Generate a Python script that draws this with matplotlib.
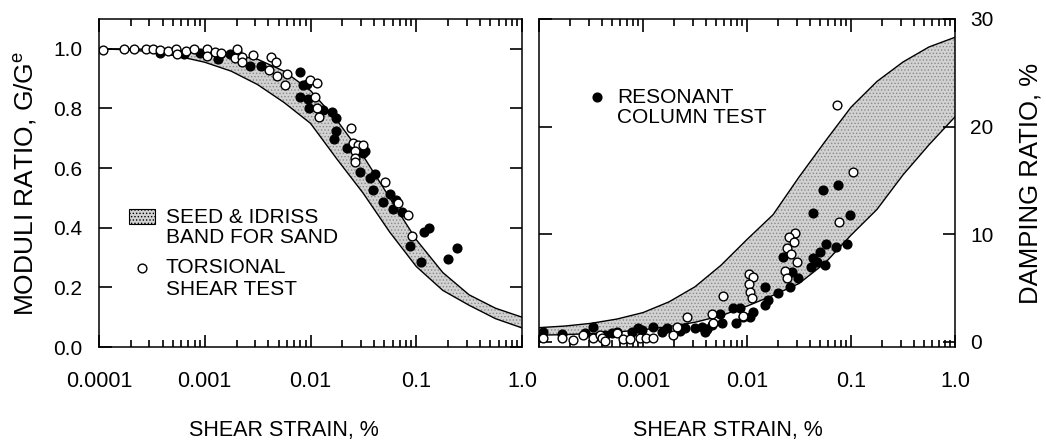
import matplotlib
matplotlib.use("Agg")
import matplotlib.pyplot as plt
from matplotlib.ticker import FixedLocator, FixedFormatter, NullFormatter
from matplotlib.patches import Rectangle

plt.rcParams['font.family'] = ['Liberation Sans', 'DejaVu Sans']
plt.rcParams['mathtext.fontset'] = 'custom'
plt.rcParams['mathtext.rm'] = 'Liberation Sans'
plt.rcParams['hatch.color'] = '#8a8a8a'
plt.rcParams['hatch.linewidth'] = 0.6

# ---- Seed & Idriss band for sand (quarter-decade read points) ----
band_strain = [0.0001, 0.000178, 0.000316, 0.000562, 0.001, 0.00178, 0.00316, 0.00562,
               0.01, 0.0178, 0.0316, 0.0562, 0.1, 0.178, 0.316, 0.562, 1.0]
mod_upper = [1.0, 1.0, 0.998, 0.995, 0.99, 0.98, 0.965, 0.925, 0.86, 0.76, 0.64, 0.50,
             0.36, 0.25, 0.175, 0.13, 0.10]
mod_lower = [1.0, 0.997, 0.99, 0.975, 0.955, 0.925, 0.88, 0.82, 0.75, 0.63, 0.515, 0.385,
             0.27, 0.19, 0.14, 0.095, 0.064]
damp_upper = [1.3, 1.45, 1.7, 2.1, 2.7, 3.7, 5.1, 7.1, 9.5, 11.8, 15.3, 18.6, 21.8, 24.2,
              26.0, 27.4, 28.3]
damp_lower = [0.6, 0.65, 0.75, 0.9, 1.1, 1.4, 1.8, 2.4, 3.3, 4.3, 5.4, 7.3, 9.9, 12.3,
              15.5, 18.3, 20.9]

# ---- modulus ratio data ----
mod_rc_strain = [3.75e-4, 6.3e-4, 8.97e-4, 1.34e-3, 1.39e-3, 1.73e-3, 2.0e-3, 2.67e-3, 3.39e-3,
                 7.9e-3, 8.5e-3, 9.2e-3, 7.9e-3, 9.5e-3, 9.7e-3, 1.32e-2, 1.58e-2, 1.74e-2,
                 1.76e-2, 1.66e-2, 2.19e-2, 2.97e-2, 3.27e-2, 3.15e-2, 3.64e-2, 4.06e-2,
                 3.92e-2, 4.8e-2, 5.6e-2, 6.5e-2, 6.06e-2, 7.3e-2, 8.7e-2, 0.11, 0.119, 0.133,
                 0.201, 0.241]
mod_rc_ratio = [0.987, 0.981, 0.987, 0.967, 0.981, 0.981, 0.989, 0.941, 0.943,
                0.921, 0.877, 0.882, 0.838, 0.831, 0.802, 0.795, 0.787, 0.767,
                0.723, 0.698, 0.668, 0.586, 0.657, 0.652, 0.567, 0.580,
                0.525, 0.487, 0.514, 0.492, 0.462, 0.454, 0.338, 0.284, 0.385, 0.399,
                0.295, 0.333]
mod_ts_strain = [1.09e-4, 1.71e-4, 2.13e-4, 2.77e-4, 3.24e-4, 3.75e-4, 4.5e-4, 5.4e-4, 5.5e-4,
                 6.7e-4, 7.9e-4, 1.04e-3, 1.06e-3, 1.24e-3, 1.44e-3, 2.0e-3, 1.95e-3, 2.27e-3,
                 2.27e-3, 2.83e-3, 4.06e-3, 4.2e-3, 4.7e-3, 4.87e-3, 5.93e-3, 5.7e-3, 9.86e-3,
                 1.14e-2, 1.1e-2, 1.14e-2, 1.21e-2, 2.44e-2, 2.53e-2, 2.79e-2, 3.15e-2, 2.63e-2,
                 2.63e-2, 2.63e-2, 5.05e-2, 6.76e-2, 8.3e-2, 9.2e-2]
mod_ts_ratio = [0.995, 0.998, 1.0, 1.0, 0.998, 0.996, 0.992, 1.0, 0.981,
                0.992, 0.998, 0.998, 0.976, 0.989, 0.985, 0.998, 0.970, 0.974,
                0.956, 0.978, 0.930, 0.974, 0.956, 0.910, 0.915, 0.879, 0.897,
                0.886, 0.838, 0.802, 0.773, 0.734, 0.685, 0.677, 0.679, 0.657,
                0.635, 0.622, 0.553, 0.484, 0.443, 0.371]

# ---- damping data ----
damp_rc_strain = [1.1e-4, 1.65e-4, 2.77e-4, 3.33e-4, 4.3e-4, 5.0e-4, 5.58e-4, 7.78e-4, 9.0e-4,
                  9.7e-4, 1.26e-3, 1.51e-3, 1.69e-3, 2.27e-3, 2.54e-3, 3.16e-3, 3.66e-3, 3.95e-3,
                  4.1e-3, 4.57e-3, 5.5e-3, 5.7e-3, 7.4e-3, 7.8e-3, 8.57e-3, 9.2e-3, 1.07e-2,
                  1.15e-2, 1.49e-2, 1.49e-2, 1.6e-2, 2.0e-2, 2.24e-2, 2.6e-2, 2.7e-2, 3.1e-2,
                  4.1e-2, 4.35e-2, 4.7e-2, 4.35e-2, 5.0e-2, 5.4e-2, 5.6e-2, 5.8e-2, 7.2e-2,
                  7.55e-2, 9.1e-2, 9.8e-2]
damp_rc_ratio = [0.93, 0.71, 0.77, 1.39, 0.62, 0.77, 0.93, 0.93, 1.24,
                 1.08, 1.39, 0.93, 1.24, 1.02, 1.24, 1.24, 1.39, 0.93,
                 1.15, 1.55, 2.6, 1.70, 3.10, 1.70, 3.10, 2.32, 2.32,
                 2.77, 5.1, 3.4, 3.86, 4.48, 7.9, 5.1, 6.5, 5.88,
                 6.96, 7.74, 7.42, 12.0, 8.35, 14.1, 7.1, 9.1, 8.8,
                 14.56, 9.1, 11.77]
damp_ts_strain = [1.1e-4, 1.65e-4, 2.14e-4, 2.67e-4, 3.33e-4, 3.86e-4, 4.0e-4, 4.3e-4, 5.58e-4,
                  6.47e-4, 7.5e-4, 9.36e-4, 1.08e-3, 1.26e-3, 1.93e-3, 2.11e-3, 2.63e-3, 4.57e-3,
                  4.75e-3, 5.9e-3, 9.2e-3, 1.05e-2, 1.15e-2, 1.05e-2, 1.07e-2, 1.11e-2, 2.32e-2,
                  2.44e-2, 2.9e-2, 2.55e-2, 2.83e-2, 2.44e-2, 2.63e-2, 3.0e-2, 7.28e-2, 7.73e-2,
                  0.105]
damp_ts_ratio = [0.31, 0.31, 0.15, 0.62, 0.31, 0.62, 0.31, 0.1, 0.77,
                 0.25, 0.25, 0.31, 0.31, 0.31, 0.62, 1.39, 2.32, 2.57,
                 1.70, 4.23, 2.37, 6.25, 6.03, 5.35, 4.63, 4.02, 6.59,
                 5.88, 10.07, 9.69, 9.29, 8.67, 8.14, 7.42, 21.98, 11.11,
                 15.79]

x_ticks = [0.0001, 0.001, 0.01, 0.1, 1.0]
x_labels_left = ['0.0001', '0.001', '0.01', '0.1', '1.0']
x_labels_right = ['', '0.001', '0.01', '0.1', '1.0']
mod_ticks = [0.0, 0.2, 0.4, 0.6, 0.8, 1.0]
mod_labels = ['0.0', '0.2', '0.4', '0.6', '0.8', '1.0']
damp_ticks = [0, 10, 20, 30]
damp_labels = ['0', '10', '20', '30']
minor_x = [m * d for d in (0.0001, 0.001, 0.01, 0.1) for m in range(2, 10)]

BAND = '#d2d2d2'
W, H = 1046, 440
fig = plt.figure(figsize=(W / 100, H / 100), dpi=100)
axL = fig.add_axes([99 / W, (H - 347) / H, 423 / W, 328 / H])
axR = fig.add_axes([539 / W, (H - 347) / H, 416 / W, 328 / H])

mk = dict(linestyle='none', marker='o', markersize=6.3, markeredgewidth=1.0,
          markeredgecolor='black')
XFS = 15.5
LFS = 15


def style(ax, labels, label_x):
    ax.set_xscale('log')
    ax.set_xlim(1e-4, 1.0)
    ax.xaxis.set_major_locator(FixedLocator(x_ticks))
    ax.xaxis.set_major_formatter(FixedFormatter(labels))
    ax.xaxis.set_minor_locator(FixedLocator(minor_x))
    ax.xaxis.set_minor_formatter(NullFormatter())
    ax.tick_params(which='both', direction='in', top=True, right=True, width=1.2,
                   color='black', zorder=5)
    ax.tick_params(which='major', length=9)
    ax.tick_params(which='minor', length=5)
    ax.tick_params(axis='x', which='major', pad=17, labelsize=XFS)
    for s in ax.spines.values():
        s.set_linewidth(1.1)
    ax.set_xlabel('SHEAR STRAIN, %', fontsize=XFS)
    ax.xaxis.set_label_coords(label_x, -0.222)


def band(ax, lower, upper):
    ax.fill_between(band_strain, lower, upper, facecolor=BAND, edgecolor='none',
                    hatch='.....', linewidth=0, zorder=1)
    ax.plot(band_strain, upper, color='black', lw=1.0, zorder=1.5)
    ax.plot(band_strain, lower, color='black', lw=1.0, zorder=1.5)


# ---- left panel ----
band(axL, mod_lower, mod_upper)
axL.plot(mod_rc_strain, mod_rc_ratio, markerfacecolor='black', **mk)
axL.plot(mod_ts_strain, mod_ts_ratio, markerfacecolor='white', **mk)
style(axL, x_labels_left, 0.437)
axL.set_ylim(0.0, 1.1)
axL.yaxis.set_major_locator(FixedLocator(mod_ticks))
axL.yaxis.set_major_formatter(FixedFormatter(mod_labels))
axL.tick_params(axis='y', which='major', pad=12, labelsize=15)
axL.set_ylabel('MODULI RATIO, G/G$^{\\mathrm{e}}$', fontsize=19, labelpad=10)

axL.add_patch(Rectangle((0.071, 0.375), 0.061, 0.046, transform=axL.transAxes,
                        facecolor=BAND, edgecolor='black', lw=0.8, hatch='.....'))
axL.text(0.158, 0.396, 'SEED & IDRISS', transform=axL.transAxes, fontsize=LFS,
         va='center', ha='left')
axL.text(0.158, 0.335, 'BAND FOR SAND', transform=axL.transAxes, fontsize=LFS,
         va='center', ha='left')
axL.plot([0.101], [0.241], transform=axL.transAxes, markerfacecolor='white', **mk)
axL.text(0.158, 0.241, 'TORSIONAL', transform=axL.transAxes, fontsize=LFS,
         va='center', ha='left')
axL.text(0.158, 0.174, 'SHEAR TEST', transform=axL.transAxes, fontsize=LFS,
         va='center', ha='left')

# ---- right panel ----
band(axR, damp_lower, damp_upper)
axR.plot(damp_rc_strain, damp_rc_ratio, markerfacecolor='black', **mk)
axR.plot(damp_ts_strain, damp_ts_ratio, markerfacecolor='white', **mk)
style(axR, x_labels_right, 0.454)
axR.set_ylim(-0.5, 30)
axR.yaxis.set_major_locator(FixedLocator(damp_ticks))
axR.yaxis.set_major_formatter(FixedFormatter(damp_labels))
axR.yaxis.tick_right()
axR.tick_params(axis='y', which='both', left=True, right=True, labelleft=False,
                labelright=True, pad=11, labelsize=15)
axR.yaxis.set_label_position('right')
axR.set_ylabel('DAMPING RATIO, %', fontsize=18.5, labelpad=18)

axR.plot([0.139], [0.762], transform=axR.transAxes, markerfacecolor='black', **mk)
axR.text(0.1875, 0.762, 'RESONANT', transform=axR.transAxes, fontsize=LFS,
         va='center', ha='left')
axR.text(0.1875, 0.701, 'COLUMN TEST', transform=axR.transAxes, fontsize=LFS,
         va='center', ha='left')

fig.savefig('out.png', dpi=100)
